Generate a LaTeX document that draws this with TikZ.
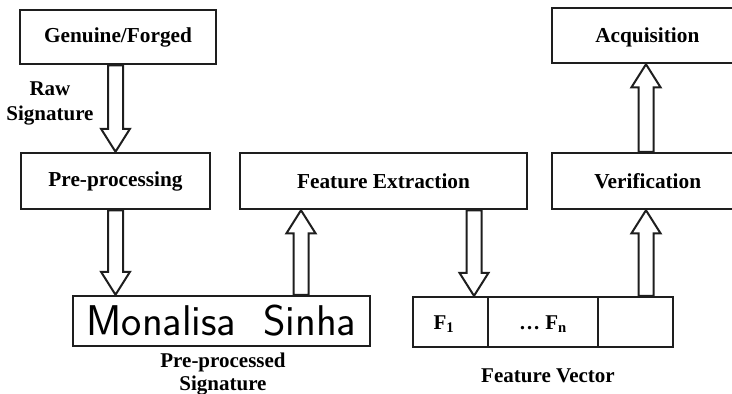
\documentclass[tikz,border=0pt]{standalone}
\usepackage{fontspec}
\setmainfont{Liberation Serif}
\usetikzlibrary{calc}
\definecolor{ink}{HTML}{1E1E1E}
\tikzset{
  stage/.style={draw=ink, line width=2.5pt, inner sep=0pt,
    font=\fontsize{21.3}{24}\selectfont\bfseries},
  caption/.style={inner sep=0pt, align=center,
    font=\fontsize{21}{23}\selectfont\bfseries},
  cell/.style={draw=ink, line width=2.3pt, inner sep=0pt, minimum height=50pt},
  celltext/.style={inner sep=0pt, font=\fontsize{21}{24}\selectfont\bfseries},
  blockarr/.style={draw=ink, line width=2pt, fill=white, line join=miter}
}
% hollow block arrow between two points on a vertical line
\newcommand\blockarrow[2]{%
  \draw[blockarr] let \p1=(#1), \p2=(#2), \n1={sign(\y2-\y1)} in
    ({\x1-7.5pt},\y1) -- ({\x1-7.5pt},{\y2-(\n1)*23pt})
    -- ({\x1-14.5pt},{\y2-(\n1)*23pt}) -- (\x1,\y2)
    -- ({\x1+14.5pt},{\y2-(\n1)*23pt}) -- ({\x1+7.5pt},{\y2-(\n1)*23pt})
    -- ({\x1+7.5pt},\y1) -- cycle;}
\begin{document}
\begin{tikzpicture}[x=1pt, y=-1pt]
  \useasboundingbox (0,0) rectangle (732,394);
  \clip (0,0) rectangle (732,394);

  % processing stages
  \node[stage, minimum width=196pt, minimum height=54pt] (gen) at (118,37) {Genuine/Forged};
  \node[stage, minimum width=189pt, minimum height=56pt] (pre) at (115.5,181) {Pre-processing};
  \node[stage, minimum width=287pt, minimum height=56pt] (fe) at (383.5,181) {Feature Extraction};
  \node[stage, minimum width=186pt, minimum height=56pt] (ver) at (645,181) {};
  \node[stage, draw=none, anchor=west] (vert) at (593,181) {Verification};
  \node[stage, minimum width=186pt, minimum height=55pt] (acq) at (645,35.5) {};
  \node[stage, draw=none, anchor=west] (acqt) at (594,37) {Acquisition};

  % pre-processed signature
  \node[draw=ink, line width=2.5pt, inner sep=0pt, minimum width=297pt, minimum height=50pt,
    font=\fontsize{43}{46}\selectfont\sffamily] (sig) at (221.5,321) {Monalisa\ \ Sinha};
  \node[caption] (sigcap) at (223,374) {Pre-processed\\Signature};

  % feature vector
  \node[cell, minimum width=75pt] (f1) at (450.5,322) {};
  \node[cell, minimum width=110pt] (fn) at (543,322) {};
  \node[cell, minimum width=75pt] (fx) at (635.5,322) {};
  \node[celltext] (f1t) at (444,324) {F\textsubscript{1}};
  \node[celltext] (fnt) at (543,324) {\ldots\ F\textsubscript{n}};
  \node[caption] (fvcap) at (548,376) {Feature Vector};

  % label on the first arrow
  \node[caption, font=\fontsize{21}{25}\selectfont\bfseries] (raw) at (50,103) {Raw\\Signature};

  % arrow columns
  \coordinate (c3) at (301,0);
  \coordinate (c4) at (474,0);
  \coordinate (c5) at (646,0);

  % flow
  \blockarrow{gen.south -| pre.north}{pre.north}
  \blockarrow{pre.south}{sig.north -| pre.south}
  \blockarrow{sig.north -| c3}{fe.south -| c3}
  \blockarrow{fe.south -| c4}{f1.north -| c4}
  \blockarrow{fx.north -| c5}{ver.south -| c5}
  \blockarrow{ver.north -| c5}{acq.south -| c5}
\end{tikzpicture}
\end{document}
